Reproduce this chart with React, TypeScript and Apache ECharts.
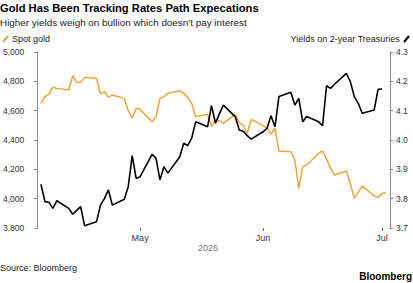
import React, { useEffect, useRef } from "react";
import * as echarts from "echarts";

const tradingDays: string[] = [
  "2026-04-06","2026-04-07","2026-04-08","2026-04-09","2026-04-10",
  "2026-04-13","2026-04-14","2026-04-15","2026-04-16","2026-04-17",
  "2026-04-20","2026-04-21","2026-04-22","2026-04-23","2026-04-24",
  "2026-04-27","2026-04-28","2026-04-29","2026-04-30","2026-05-01",
  "2026-05-04","2026-05-05","2026-05-06","2026-05-07","2026-05-08",
  "2026-05-11","2026-05-12","2026-05-13","2026-05-14","2026-05-15",
  "2026-05-18","2026-05-19","2026-05-20","2026-05-21","2026-05-22",
  "2026-05-25","2026-05-26","2026-05-27","2026-05-28","2026-05-29",
  "2026-06-01","2026-06-02","2026-06-03","2026-06-04","2026-06-05",
  "2026-06-08","2026-06-09","2026-06-10","2026-06-11","2026-06-12",
  "2026-06-15","2026-06-16","2026-06-17","2026-06-18","2026-06-19",
  "2026-06-22","2026-06-23","2026-06-24","2026-06-25","2026-06-26",
  "2026-06-29","2026-06-30","2026-07-01","2026-07-02",
];

const goldValues: number[] = [
  4650, 4695, 4712, 4760, 4752,
  4741, 4838, 4793, 4793, 4827,
  4820, 4714, 4730, 4691, 4707,
  4684, 4600, 4550, 4616, 4610,
  4525, 4559, 4684, 4695, 4718,
  4734, 4718, 4690, 4650, 4559,
  4575, 4491, 4536, 4530, 4514,
  4575, 4520, 4500, 4446, 4541,
  4498, 4480, 4440, 4480, 4325,
  4320, 4264, 4071, 4218, 4230,
  4310, 4325, 4270, 4210, 4161,
  4189, 4100, 4002, 4045, 4086,
  4020, 4009, 4036, 4041,
];

const yieldValues: number[] = [
  3.849, 3.790, 3.788, 3.767, 3.793,
  3.767, 3.747, 3.760, 3.773, 3.708,
  3.721, 3.778, 3.800, 3.830, 3.778,
  3.798, 3.841, 3.947, 3.869, 3.875,
  3.951, 3.938, 3.864, 3.909, 3.887,
  3.943, 3.989, 3.981, 4.006, 4.062,
  4.045, 4.117, 4.057, 4.090, 4.119,
  4.079, 4.034, 4.030, 4.015, 4.003,
  4.028, 4.040, 4.083, 4.045, 4.148,
  4.163, 4.119, 4.142, 4.062, 4.080,
  4.062, 4.049, 4.185, 4.176, 4.190,
  4.227, 4.199, 4.148, 4.125, 4.091,
  4.102, 4.173, 4.174,
];

const monthTicks: string[] = ["2026-05-01", "2026-06-01", "2026-07-01"];
const monthNames: string[] = ["May", "Jun", "Jul"];

const title = "Gold Has Been Tracking Rates Path Expecations";
const subtitle = "Higher yields weigh on bullion which doesn't pay interest";
const goldName = "Spot gold";
const yieldName = "Yields on 2-year Treasuries";

const GOLD = "#f2a33a";
const FONT = "Liberation Sans, Arial, sans-serif";

export default function App() {
  const ref = useRef<HTMLDivElement>(null);

  useEffect(() => {
    document.body.style.margin = "0";
    if (!ref.current) return;
    const chart = echarts.init(ref.current, undefined, { renderer: "svg" });
    const ts = (d: string) => new Date(d + "T00:00:00Z").getTime();
    const tickTs = monthTicks.map(ts);

    chart.setOption({
      animation: false,
      textStyle: { fontFamily: FONT },
      grid: { left: 30, right: 23, top: 52, bottom: 55 },
      xAxis: {
        type: "value",
        min: ts("2026-04-05"),
        max: ts("2026-07-03"),
        axisLine: { show: false },
        splitLine: { show: false },
        axisTick: {
          show: true,
          customValues: tickTs,
          length: 3,
          lineStyle: { color: "#666", width: 1 },
        },
        axisLabel: {
          customValues: tickTs,
          fontSize: 9,
          color: "#333",
          margin: 5,
          formatter: (v: number) => {
            const i = tickTs.findIndex((t) => Math.abs(t - v) < 86400000);
            return i >= 0 ? monthNames[i] : "";
          },
        },
      },
      yAxis: [
        {
          type: "value",
          min: 3800,
          max: 5000,
          interval: 200,
          position: "left",
          splitLine: { show: false },
          axisLine: { show: true, lineStyle: { color: "#888", width: 1 } },
          axisTick: { show: true, length: 3, lineStyle: { color: "#888" } },
          axisLabel: {
            fontSize: 8.5,
            color: "#333",
            margin: 4,
            align: "left",
            padding: [0, 0, 0, -30],
            formatter: (v: number) => v.toLocaleString("en-US"),
          },
        },
        {
          type: "value",
          min: 3.7,
          max: 4.3,
          interval: 0.1,
          position: "right",
          splitLine: { show: false },
          axisLine: { show: true, lineStyle: { color: "#888", width: 1 } },
          axisTick: { show: true, length: 3, lineStyle: { color: "#888" } },
          axisLabel: {
            fontSize: 8.5,
            color: "#333",
            margin: 6,
            formatter: (v: number) => v.toFixed(1),
          },
        },
      ],
      series: [
        {
          name: goldName,
          type: "line",
          yAxisIndex: 0,
          showSymbol: false,
          lineStyle: { color: GOLD, width: 1.5 },
          data: tradingDays.map((d, i) => [ts(d), goldValues[i]]),
        },
        {
          name: yieldName,
          type: "line",
          yAxisIndex: 1,
          showSymbol: false,
          lineStyle: { color: "#000", width: 1.6 },
          data: yieldValues.map((v, i) => [ts(tradingDays[i]), v]),
        },
      ],
      graphic: [
        { type: "text", left: 0, top: 2, style: { text: title, font: `bold 11.2px ${FONT}`, fill: "#000" } },
        { type: "text", left: 0, top: 17, style: { text: subtitle, font: `9.9px ${FONT}`, fill: "#222" } },
        { type: "line", shape: { x1: 3, y1: 42, x2: 8, y2: 36 }, style: { stroke: GOLD, lineWidth: 2 } },
        { type: "text", left: 12, top: 34, style: { text: goldName, font: `9px ${FONT}`, fill: "#222" } },
        { type: "text", right: 13, top: 34, style: { text: yieldName, font: `9px ${FONT}`, fill: "#222" } },
        { type: "line", shape: { x1: 404, y1: 42, x2: 409, y2: 36 }, style: { stroke: "#000", lineWidth: 2 } },
        { type: "text", left: 198, top: 243, style: { text: "2026", font: `9px ${FONT}`, fill: "#777" } },
        { type: "text", left: 0, top: 263, style: { text: "Source: Bloomberg", font: `9px ${FONT}`, fill: "#222" } },
        { type: "text", right: 1, top: 271, style: { text: "Bloomberg", font: `bold 10px ${FONT}`, fill: "#000" } },
      ],
    });
    return () => chart.dispose();
  }, []);

  return <div ref={ref} style={{ width: 413, height: 283 }} />;
}
